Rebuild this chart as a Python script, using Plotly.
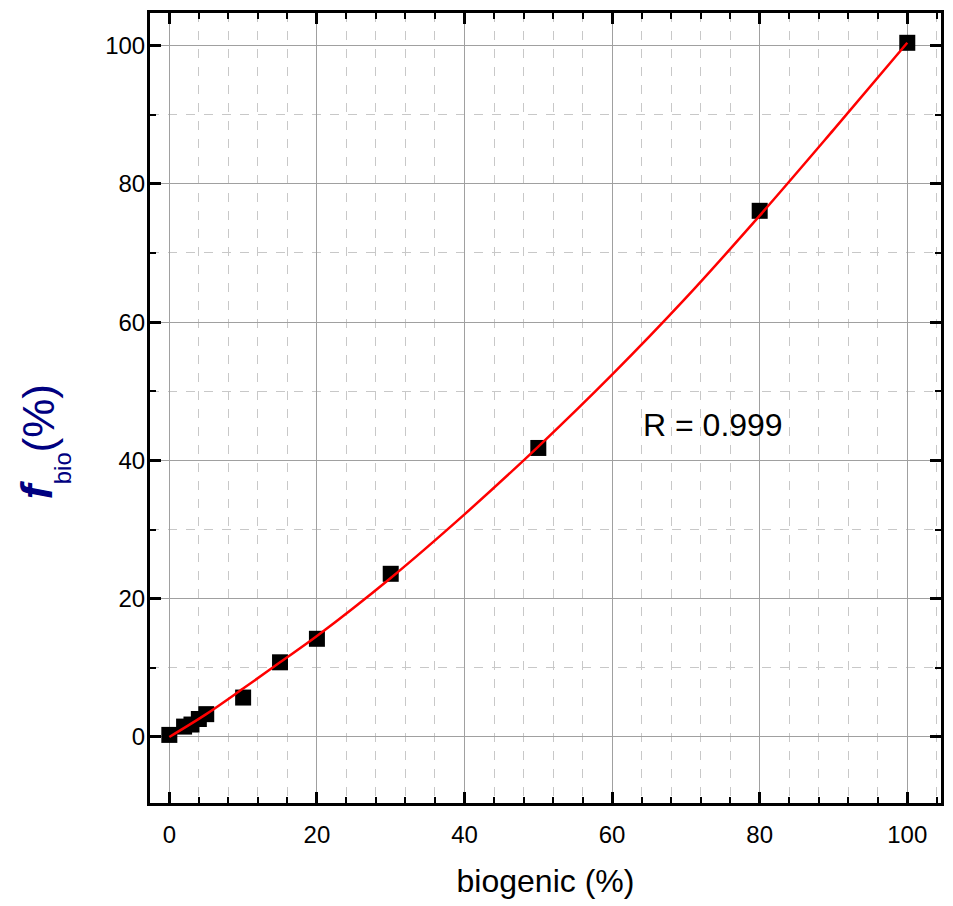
import plotly.graph_objects as go

# measured data points
biogenic = [0, 2, 3, 4, 5, 10, 15, 20, 30, 50, 80, 100]
fbio = [0.3, 1.5, 1.8, 2.6, 3.3, 5.7, 10.8, 14.2, 23.6, 41.8, 76.1, 100.4]

# fitted curve
fit_x = [0, 5, 10, 15, 20, 30, 40, 50, 60, 70, 80, 90, 100]
fit_y = [0.0, 3.3, 7.0, 10.8, 14.6, 23.0, 32.2, 42.0, 52.4, 63.5, 75.4, 87.8, 100.4]

x_ticks = [0, 20, 40, 60, 80, 100]
y_ticks = [0, 20, 40, 60, 80, 100]
r_label = "R = 0.999"

FONT = "Arial, Liberation Sans, sans-serif"

fig = go.Figure()
fig.add_trace(go.Scatter(x=biogenic, y=fbio, mode="markers",
                         marker=dict(symbol="square", size=16, color="black",
                                     line=dict(width=0)),
                         showlegend=False, cliponaxis=False))
fig.add_trace(go.Scatter(x=fit_x, y=fit_y, mode="lines",
                         line=dict(color="#ff0000", width=2.5, shape="spline"),
                         showlegend=False))

axis_common = dict(
    showline=True, linecolor="black", linewidth=3, mirror="ticks",
    ticks="inside", ticklen=11, tickwidth=3, tickcolor="black",
    showgrid=True, gridcolor="#a0a0a0", gridwidth=1,
    zeroline=False,
    tickfont=dict(family=FONT, size=24, color="black"),
)

fig.update_xaxes(
    range=[-2.62, 104.57], tickvals=x_ticks,
    minor=dict(dtick=4, tick0=0, ticks="inside", ticklen=6, tickwidth=2,
               tickcolor="black", showgrid=True, gridcolor="#c8c8c8",
               griddash="dash", gridwidth=1),
    ticklabelstandoff=8,
    title=dict(text="biogenic (%)", standoff=23,
               font=dict(family=FONT, size=32, color="black")),
    **axis_common)
fig.update_yaxes(
    range=[-9.55, 104.71], tickvals=y_ticks,
    minor=dict(dtick=10, tick0=0, ticks="inside", ticklen=6, tickwidth=2,
               tickcolor="black", showgrid=True, gridcolor="#c8c8c8",
               griddash="dash", gridwidth=1),
    ticklabelstandoff=-3,
    **axis_common)

# page offset of 8px (browser body margin) is compensated in size/margins
W, H = 945, 898
ML, MR, MT, MB = 142, 12, 2, 103
pw, ph = W - ML - MR, H - MT - MB


def px_to_paper(px, py):
    return (px - 8 - ML) / pw, (H - MB - (py - 8)) / ph


# y-axis title: f (bold italic) + subscript "bio" + "(%)"
title_parts = [
    ("<b><i>f</i></b>", 44, 36, 488),
    ("bio", 24, 62, 467),
    ("(%)", 44, 38, 417),
]
for txt, size, cx, cy in title_parts:
    ax_, ay_ = px_to_paper(cx, cy)
    fig.add_annotation(
        x=ax_, y=ay_, xref="paper", yref="paper", text=txt,
        textangle=-90, showarrow=False, xanchor="center", yanchor="middle",
        font=dict(family=FONT, size=size, color="#000080"))

fig.add_annotation(
    x=63.9, y=45.1, xref="x", yref="y", text=r_label, showarrow=False,
    xanchor="left", yanchor="middle",
    font=dict(family=FONT, size=32, color="black"))

fig.update_layout(
    width=W, height=H,
    margin=dict(l=ML, r=MR, t=MT, b=MB),
    plot_bgcolor="white", paper_bgcolor="white",
)

fig.write_html("out.html")
